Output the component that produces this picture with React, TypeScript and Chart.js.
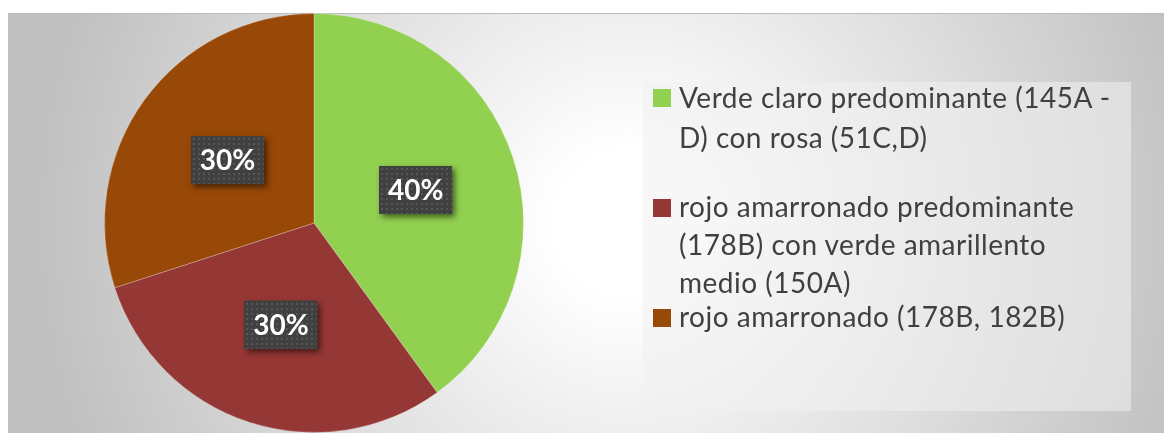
import React, { useEffect, useRef } from "react";
import { Chart, registerables } from "chart.js";

Chart.register(...registerables);

// ---- data ----
const categories: string[][] = [
  ["Verde claro predominante (145A -", "D) con rosa (51C,D)"],
  ["rojo amarronado predominante", "(178B) con verde amarillento", "medio (150A)"],
  ["rojo amarronado (178B, 182B)"],
];
const values: number[] = [40, 30, 30];
const colors: string[] = ["#92D050", "#953735", "#984807"];
const percentLabels: string[] = ["40%", "30%", "30%"];

const W = 1156;
const H = 420;

function makePattern(ctx: CanvasRenderingContext2D) {
  const c = document.createElement("canvas");
  c.width = 5;
  c.height = 5;
  const p = c.getContext("2d")!;
  p.fillStyle = "#404040";
  p.fillRect(0, 0, 5, 5);
  p.fillStyle = "#565656";
  p.fillRect(2, 2, 2, 2);
  return ctx.createPattern(c, "repeat");
}

const labelBoxes = {
  id: "labelBoxes",
  afterDatasetsDraw(chart: any) {
    const ctx: CanvasRenderingContext2D = chart.ctx;
    const meta = chart.getDatasetMeta(0);
    const pattern = makePattern(ctx);
    meta.data.forEach((arc: any, i: number) => {
      const p = arc.getProps(["x", "y", "startAngle", "endAngle", "outerRadius"], true);
      const mid = (p.startAngle + p.endAngle) / 2;
      const r = p.outerRadius * 0.51;
      const cx = p.x + Math.cos(mid) * r;
      const cy = p.y + Math.sin(mid) * r;
      const bw = 73;
      const bh = 48;
      ctx.save();
      ctx.shadowColor = "rgba(0,0,0,0.55)";
      ctx.shadowBlur = 6;
      ctx.shadowOffsetX = 3;
      ctx.shadowOffsetY = 3;
      ctx.fillStyle = "#404040";
      ctx.fillRect(cx - bw / 2, cy - bh / 2, bw, bh);
      ctx.restore();
      ctx.save();
      ctx.fillStyle = pattern || "#404040";
      ctx.translate(Math.round(cx - bw / 2), Math.round(cy - bh / 2));
      ctx.fillRect(0, 0, bw, bh);
      ctx.restore();
      ctx.save();
      ctx.fillStyle = "#ffffff";
      ctx.font = "bold 28px Lato";
      ctx.textAlign = "center";
      ctx.textBaseline = "middle";
      ctx.fillText(percentLabels[i], cx, cy + 1);
      ctx.restore();
    });
  },
};

const itemTops = [-5, 105, 215];
const itemLineHeights = [40, 38, 38];

export default function App() {
  const ref = useRef<HTMLCanvasElement>(null);
  useEffect(() => {
    if (!ref.current) return;
    const chart = new Chart(ref.current, {
      type: "pie",
      data: {
        labels: categories,
        datasets: [
          {
            data: values,
            backgroundColor: colors,
            borderColor: "rgba(255,255,255,0.25)",
            borderWidth: 1,
          },
        ],
      },
      options: {
        responsive: false,
        maintainAspectRatio: false,
        animation: false,
        devicePixelRatio: 1,
        layout: { padding: { left: 96, right: 640, top: 0, bottom: 0 } },
        plugins: {
          legend: { display: false },
          tooltip: { enabled: false },
        },
      },
      plugins: [labelBoxes],
    });
    return () => chart.destroy();
  }, []);

  return (
    <div
      style={{
        position: "absolute",
        left: 8,
        top: 13,
        width: W,
        height: H,
        overflow: "hidden",
        background:
          "radial-gradient(circle 600px at 620px 210px, #ffffff 0%, #ffffff 12%, #bfbfbf 100%)",
      }}
    >
      <div style={{ position: "absolute", left: 0, top: 0, width: W, height: 1, background: "#bdbdbd" }} />
      <canvas ref={ref} width={W} height={H} style={{ position: "absolute", left: 0, top: 0, width: W, height: H }} />
      <div
        style={{
          position: "absolute",
          left: 635,
          top: 69,
          width: 488,
          height: 329,
          background: "rgba(240,240,240,0.55)",
          fontFamily: "Lato, sans-serif",
          fontSize: 28,
          letterSpacing: "0.5px",
          color: "#404040",
        }}
      >
        {categories.map((lines, i) => (
          <div key={i} style={{ position: "absolute", left: 10, top: itemTops[i] }}>
            <div
              style={{
                position: "absolute",
                left: 0,
                top: 12,
                width: 18,
                height: 18,
                background: colors[i],
              }}
            />
            <div
              style={{
                position: "absolute",
                left: 26,
                top: 0,
                whiteSpace: "nowrap",
                lineHeight: itemLineHeights[i] + "px",
              }}
            >
              {lines.map((l, j) => (
                <div key={j}>{l}</div>
              ))}
            </div>
          </div>
        ))}
      </div>
    </div>
  );
}
